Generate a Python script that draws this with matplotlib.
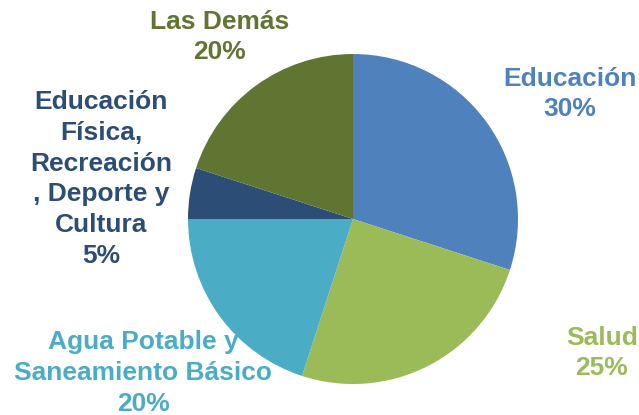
import matplotlib
matplotlib.use("Agg")
import matplotlib.pyplot as plt

# Shares by sector (percent), clockwise from 12 o'clock
categories = ["Educación", "Salud", "Agua Potable y\nSaneamiento Básico",
              "Educación\nFísica,\nRecreación\n, Deporte y\nCultura", "Las Demás"]
shares = [30, 25, 20, 5, 20]
colors = ["#4F81BD", "#9BBB59", "#4BACC6", "#2C4D75", "#617533"]

# label centres in pixels (x, y from top) on the 639x415 canvas
label_px = [(570, 94), (602, 353), (143, 373), (101, 179), (220, 37)]

W, H = 639, 415
fig = plt.figure(figsize=(W / 100, H / 100), dpi=100)

# pie centre ~(353, 219), radius ~165 px
cx, cy, r = 353, 219, 165
ax = fig.add_axes([(cx - r) / W, (H - cy - r) / H, 2 * r / W, 2 * r / H])
ax.pie(shares, colors=colors, startangle=90, counterclock=False,
       wedgeprops=dict(linewidth=0))
ax.set_xlim(-1, 1)
ax.set_ylim(-1, 1)
ax.set_aspect("equal")
ax.axis("off")

for cat, val, col, (px, py) in zip(categories, shares, colors, label_px):
    fig.text(px / W, 1 - py / H, "%s\n%d%%" % (cat, val), color=col,
             ha="center", va="center", fontsize=19, fontweight="bold",
             family="Liberation Sans", linespacing=1.36)

fig.savefig("out.png", dpi=100)
